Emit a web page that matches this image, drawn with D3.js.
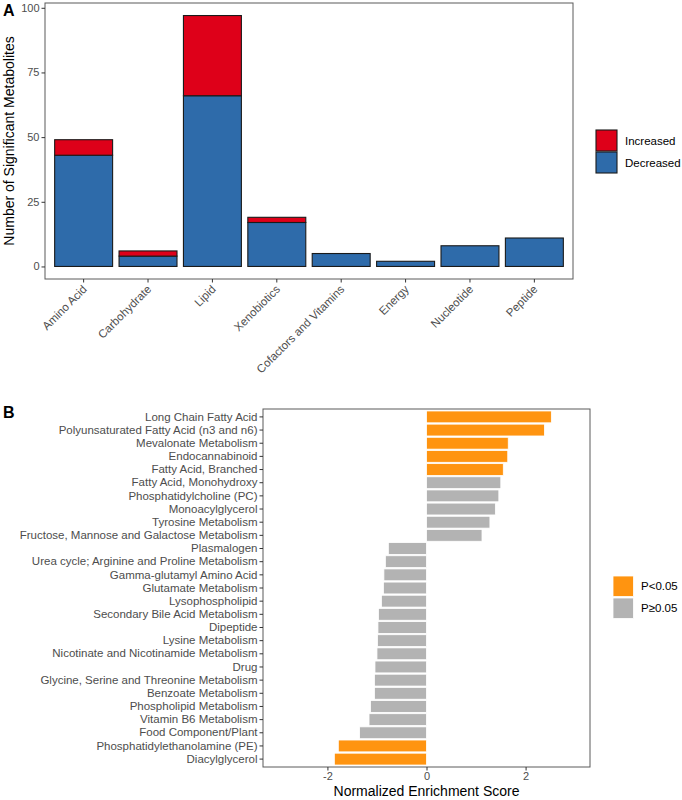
<!DOCTYPE html>
<html><head><meta charset="utf-8">
<script src="https://cdn.jsdelivr.net/npm/d3@7"></script>
<style>body{margin:0;background:#fff;} svg{display:block;font-family:"Liberation Sans",Arial,sans-serif;}</style>
</head><body>
<svg id="c" width="682" height="800"></svg>
<script>
// Panel A data
const classes = ["Amino Acid","Carbohydrate","Lipid","Xenobiotics","Cofactors and Vitamins","Energy","Nucleotide","Peptide"];
const decreased = [43,4,66,17,5,2,8,11];
const increased = [6,2,31,2,0,0,0,0];
const yTicksA = [0,25,50,75,100];

// Panel B data
const pathways = ["Long Chain Fatty Acid","Polyunsaturated Fatty Acid (n3 and n6)","Mevalonate Metabolism","Endocannabinoid","Fatty Acid, Branched","Fatty Acid, Monohydroxy","Phosphatidylcholine (PC)","Monoacylglycerol","Tyrosine Metabolism","Fructose, Mannose and Galactose Metabolism","Plasmalogen","Urea cycle; Arginine and Proline Metabolism","Gamma-glutamyl Amino Acid","Glutamate Metabolism","Lysophospholipid","Secondary Bile Acid Metabolism","Dipeptide","Lysine Metabolism","Nicotinate and Nicotinamide Metabolism","Drug","Glycine, Serine and Threonine Metabolism","Benzoate Metabolism","Phospholipid Metabolism","Vitamin B6 Metabolism","Food Component/Plant","Phosphatidylethanolamine (PE)","Diacylglycerol"];
const nes = [2.52,2.38,1.65,1.64,1.55,1.50,1.46,1.39,1.28,1.12,-0.77,-0.83,-0.86,-0.87,-0.91,-0.97,-0.98,-0.99,-1.00,-1.04,-1.05,-1.05,-1.13,-1.16,-1.35,-1.78,-1.86];
const signif = [1,1,1,1,1,0,0,0,0,0,0,0,0,0,0,0,0,0,0,0,0,0,0,0,0,1,1];
const xTicksB = [-2,0,2];

const svg = d3.select("#c");
const axisCol = "#333333", textCol = "#4D4D4D", borderCol = "#5a5a5a";
const RED = "#DE0019", BLUE = "#2E6BAA", ORANGE = "#FF9410", GRAY = "#B3B3B3";

// ---------- Panel A ----------
const A = {l:45, r:573, t:3, b:279};
const xA = d3.scaleBand().domain(classes).range([A.l, A.r]).paddingInner(0.1).paddingOuter(0.15);
const yA = d3.scaleLinear().domain([-4.85, 101.85]).range([A.b, A.t]);

const gA = svg.append("g");
const rowsA = classes.map((c,i)=>({c, d:decreased[i], inc:increased[i]}));
gA.selectAll("rect.dec").data(rowsA).join("rect")
  .attr("x", d=>xA(d.c)).attr("width", xA.bandwidth())
  .attr("y", d=>yA(d.d)).attr("height", d=>yA(0)-yA(d.d))
  .attr("fill", BLUE).attr("stroke", "#1a1a1a").attr("stroke-width", 1.1);
gA.selectAll("rect.inc").data(rowsA.filter(d=>d.inc>0)).join("rect")
  .attr("x", d=>xA(d.c)).attr("width", xA.bandwidth())
  .attr("y", d=>yA(d.d+d.inc)).attr("height", d=>yA(d.d)-yA(d.d+d.inc))
  .attr("fill", RED).attr("stroke", "#1a1a1a").attr("stroke-width", 1.1);

gA.append("rect").attr("x",A.l).attr("y",A.t).attr("width",A.r-A.l).attr("height",A.b-A.t)
  .attr("fill","none").attr("stroke",borderCol).attr("stroke-width",1);

const yAxA = gA.append("g").attr("transform",`translate(${A.l},0)`)
  .call(d3.axisLeft(yA).tickValues(yTicksA).tickSize(3.5).tickPadding(2));
const xAxA = gA.append("g").attr("transform",`translate(0,${A.b})`)
  .call(d3.axisBottom(xA).tickSize(3.5).tickPadding(2));
[yAxA, xAxA].forEach(g=>{
  g.select(".domain").remove();
  g.selectAll(".tick line").attr("stroke",axisCol);
  g.selectAll(".tick text").attr("fill",textCol).style("font-size","11px").style("font-family","Liberation Sans, Arial, sans-serif");
});
xAxA.selectAll(".tick text").style("font-size","11.5px").attr("text-anchor","end").attr("dy",null)
  .attr("transform","translate(4,11) rotate(-45)").attr("y",0).attr("x",0);

gA.append("text").attr("transform",`translate(14,${(A.t+A.b)/2}) rotate(-90)`)
  .attr("text-anchor","middle").style("font-size","14px").attr("fill","#000")
  .text("Number of Significant Metabolites");
svg.append("text").attr("x",3).attr("y",16).style("font-size","16px").style("font-weight","bold").text("A");

// legend A
const legA = [{k:"Increased",c:RED},{k:"Decreased",c:BLUE}];
const lg = svg.append("g");
legA.forEach((d,i)=>{
  lg.append("rect").attr("x",596).attr("y",130+i*22).attr("width",21).attr("height",21)
    .attr("fill",d.c).attr("stroke","#1a1a1a").attr("stroke-width",1.1);
  lg.append("text").attr("x",625).attr("y",140.5+i*22).attr("dy","0.35em")
    .style("font-size","11.5px").attr("fill","#000").text(d.k);
});

// ---------- Panel B ----------
const B = {l:263, r:590, t:409, b:767};
const xB = d3.scaleLinear().domain([-3.3,3.3]).range([B.l,B.r]);
const yB = d3.scaleBand().domain(pathways).range([B.t,B.b]).paddingInner(0.1).paddingOuter(0.15);
const gB = svg.append("g");
const rowsB = pathways.map((p,i)=>({p, v:nes[i], s:signif[i]}));
gB.selectAll("rect").data(rowsB).join("rect")
  .attr("x", d=>xB(Math.min(0,d.v))).attr("width", d=>Math.abs(xB(d.v)-xB(0)))
  .attr("y", d=>yB(d.p)).attr("height", yB.bandwidth())
  .attr("fill", d=>d.s?ORANGE:GRAY).attr("stroke","#fff").attr("stroke-width",0.8);

gB.append("rect").attr("x",B.l).attr("y",B.t).attr("width",B.r-B.l).attr("height",B.b-B.t)
  .attr("fill","none").attr("stroke",borderCol).attr("stroke-width",1);

const yAxB = gB.append("g").attr("transform",`translate(${B.l},0)`)
  .call(d3.axisLeft(yB).tickSize(3.5).tickPadding(2));
const xAxB = gB.append("g").attr("transform",`translate(0,${B.b})`)
  .call(d3.axisBottom(xB).tickValues(xTicksB).tickFormat(d=>String(d)).tickSize(3.5).tickPadding(2));
[yAxB, xAxB].forEach(g=>{
  g.select(".domain").remove();
  g.selectAll(".tick line").attr("stroke",axisCol);
  g.selectAll(".tick text").attr("fill",textCol).style("font-size","11.5px").style("font-family","Liberation Sans, Arial, sans-serif");
});
xAxB.selectAll(".tick text").style("font-size","11px");

gB.append("text").attr("x",(B.l+B.r)/2).attr("y",796).attr("text-anchor","middle")
  .style("font-size","14px").attr("fill","#000").text("Normalized Enrichment Score");
svg.append("text").attr("x",3).attr("y",418).style("font-size","16px").style("font-weight","bold").text("B");

const legB = [{k:"P<0.05",c:ORANGE},{k:"P\u22650.05",c:GRAY}];
legB.forEach((d,i)=>{
  svg.append("rect").attr("x",613).attr("y",576+i*22).attr("width",20.5).attr("height",20.5)
    .attr("fill",d.c).attr("stroke","#fff").attr("stroke-width",0.8);
  svg.append("text").attr("x",641).attr("y",586+i*22).attr("dy","0.35em")
    .style("font-size","11.5px").attr("fill","#000").text(d.k);
});
</script>
</body></html>
